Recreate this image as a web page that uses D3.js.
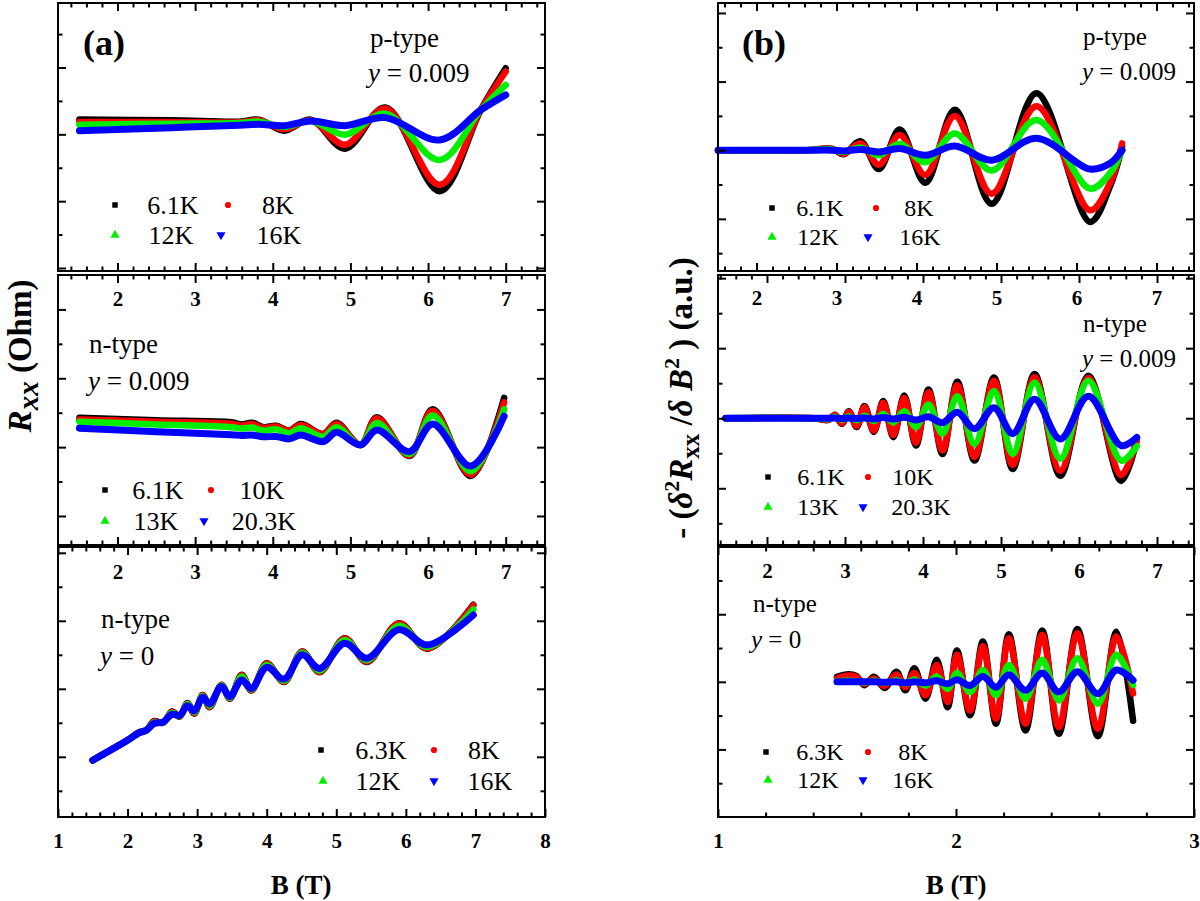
<!DOCTYPE html>
<html>
<head>
<meta charset="utf-8">
<script src="https://cdn.jsdelivr.net/npm/d3@7/dist/d3.min.js"></script>
<style>
html,body{margin:0;padding:0;background:#fff;}
svg{display:block;}
svg text{font-family:'Liberation Serif','Times New Roman','DejaVu Serif',serif;}
</style>
</head>
<body>
<svg id="chart" width="1200" height="901"></svg>
<script>
// ================= DATA =================
// Panel (a) top : R_xx, p-type, y = 0.009   (x = B in T, y = arbitrary units)
const aTopTemps = ['6.1K', '8K', '12K', '16K'];
const aTopB   = [1.51, 2.70, 3.57, 3.82, 4.15, 4.49, 4.93, 5.45, 6.15, 6.68, 7.00];
const aTopK61 = [4.44, 4.42, 4.38, 4.44, 4.11, 4.44, 3.57, 4.80, 2.30, 4.74, 5.98];
const aTopK8  = [4.37, 4.37, 4.36, 4.42, 4.15, 4.42, 3.69, 4.77, 2.49, 4.73, 5.88];
const aTopK12 = [4.29, 4.32, 4.34, 4.38, 4.22, 4.40, 3.99, 4.62, 3.23, 4.73, 5.48];
const aTopK16 = [4.11, 4.20, 4.27, 4.30, 4.26, 4.40, 4.26, 4.50, 3.83, 4.73, 5.18];

// Panel (a) middle : R_xx, n-type, y = 0.009
const aMidTemps = ['6.1K', '10K', '13K', '20.3K'];
const aMidB    = [1.51, 2.50, 3.47, 3.60, 3.73, 3.88, 4.04, 4.21, 4.36, 4.65, 4.82, 5.13, 5.34, 5.76, 6.06, 6.55, 6.98];
const aMidK61  = [3.85, 3.78, 3.72, 3.66, 3.71, 3.58, 3.62, 3.48, 3.67, 3.38, 3.71, 3.06, 3.87, 2.74, 4.10, 2.16, 4.43];
const aMidK10  = [3.80, 3.74, 3.68, 3.62, 3.67, 3.56, 3.60, 3.47, 3.64, 3.38, 3.68, 3.08, 3.84, 2.76, 4.06, 2.20, 4.30];
const aMidK13  = [3.74, 3.66, 3.58, 3.54, 3.57, 3.48, 3.52, 3.40, 3.55, 3.30, 3.58, 3.07, 3.70, 2.80, 3.92, 2.30, 4.10];
const aMidK203 = [3.55, 3.45, 3.36, 3.34, 3.35, 3.30, 3.31, 3.24, 3.35, 3.16, 3.43, 3.06, 3.50, 2.87, 3.67, 2.45, 3.90];

// Panel (a) bottom : R_xx, n-type, y = 0
const aBotTemps = ['6.3K', '8K', '12K', '16K'];
const aBotB   = [1.50, 2.01, 2.16, 2.27, 2.38, 2.51, 2.64, 2.75, 2.86, 2.96, 3.08, 3.18, 3.35, 3.47, 3.64, 3.78, 4.00, 4.25, 4.51, 4.76, 5.12, 5.44, 5.90, 6.31, 6.97];
const aBotK63 = [0.90, 1.50, 1.72, 1.78, 2.05, 2.00, 2.33, 2.18, 2.58, 2.27, 2.82, 2.46, 3.12, 2.71, 3.41, 2.95, 3.75, 3.20, 4.10, 3.49, 4.49, 3.79, 4.93, 4.18, 5.47];
const aBotK8  = [0.90, 1.50, 1.72, 1.78, 2.04, 2.00, 2.32, 2.19, 2.57, 2.28, 2.81, 2.47, 3.11, 2.72, 3.40, 2.96, 3.74, 3.21, 4.09, 3.50, 4.48, 3.80, 4.92, 4.19, 5.45];
const aBotK12 = [0.90, 1.50, 1.71, 1.78, 2.01, 2.01, 2.29, 2.20, 2.55, 2.31, 2.79, 2.50, 3.10, 2.74, 3.36, 2.98, 3.70, 3.24, 4.06, 3.54, 4.43, 3.84, 4.85, 4.23, 5.33];
const aBotK16 = [0.90, 1.50, 1.70, 1.78, 1.98, 2.02, 2.25, 2.22, 2.50, 2.35, 2.75, 2.55, 3.07, 2.77, 3.26, 3.01, 3.63, 3.29, 4.00, 3.60, 4.34, 3.90, 4.74, 4.29, 5.17];

// Panel (b) top : -d2R/dB2, p-type, y = 0.009
const bTopTemps = ['6.1K', '8K', '12K', '16K'];
const bTopB   = [1.52, 2.60, 2.95, 3.09, 3.30, 3.53, 3.79, 4.11, 4.48, 4.94, 5.50, 6.17, 6.42, 6.57];
const bTopK61 = [0, 0, 0.04, -0.12, 0.26, -0.55, 0.60, -0.95, 1.18, -1.56, 1.66, -2.09, -1.05, 0.10];
const bTopK8  = [0, 0, 0.04, -0.10, 0.20, -0.42, 0.44, -0.72, 1.00, -1.27, 1.28, -1.75, -0.95, 0.20];
const bTopK12 = [0, 0, 0.02, -0.05, 0.08, -0.15, 0.19, -0.35, 0.49, -0.59, 0.88, -1.12, -0.67, 0.00];
const bTopK16 = [0, 0, 0.00, -0.02, 0.02, -0.05, 0.05, -0.15, 0.12, -0.29, 0.35, -0.55, -0.38, 0.00];

// Panel (b) middle : n-type, y = 0.009
const bMidTemps = ['6.1K', '10K', '13K', '20.3K'];
const bMidB    = [1.47, 2.60, 2.79, 2.87, 2.96, 3.05, 3.15, 3.25, 3.37, 3.49, 3.62, 3.76, 3.91, 4.07, 4.25, 4.44, 4.66, 4.91, 5.15, 5.43, 5.76, 6.12, 6.54, 6.74];
const bMidK61  = [0, 0, -0.05, 0.10, -0.16, 0.20, -0.25, 0.35, -0.39, 0.49, -0.54, 0.65, -0.78, 0.82, -1.02, 1.04, -1.21, 1.16, -1.45, 1.26, -1.64, 1.21, -1.79, -0.63];
const bMidK10  = [0, 0, -0.04, 0.09, -0.14, 0.18, -0.22, 0.31, -0.35, 0.44, -0.48, 0.58, -0.70, 0.74, -0.92, 0.94, -1.10, 1.07, -1.33, 1.17, -1.50, 1.15, -1.62, -0.62];
const bMidK13  = [0, 0, -0.02, 0.04, -0.05, 0.06, -0.06, 0.07, -0.08, 0.12, -0.12, 0.20, -0.25, 0.39, -0.44, 0.63, -0.73, 0.78, -1.02, 1.02, -1.16, 1.07, -1.21, -0.80];
const bMidK203 = [0, 0, 0, 0.01, -0.01, 0.01, -0.01, 0.01, -0.02, 0.02, -0.02, 0.03, -0.05, 0.04, -0.13, 0.17, -0.30, 0.30, -0.44, 0.54, -0.59, 0.63, -0.78, -0.55];

// Panel (b) bottom : n-type, y = 0 (plotted on the 1..3 bottom axis)
const bBotTemps = ['6.3K', '8K', '12K', '16K'];
const bBotX   = [1.50, 1.54, 1.58, 1.615, 1.655, 1.70, 1.75, 1.787, 1.825, 1.872, 1.919, 1.965, 2.004, 2.059, 2.113, 2.168, 2.222, 2.292, 2.362, 2.432, 2.510, 2.596, 2.674, 2.744];
const bBotK63 = [0.15, 0.22, 0.18, -0.10, 0.15, -0.18, 0.30, -0.25, 0.40, -0.50, 0.65, -0.75, 0.93, -0.99, 1.19, -1.24, 1.41, -1.44, 1.52, -1.54, 1.56, -1.61, 1.48, -1.15];
const bBotK8  = [0.10, 0.18, 0.15, -0.06, 0.10, -0.12, 0.22, -0.16, 0.26, -0.40, 0.50, -0.60, 0.80, -0.85, 1.05, -1.09, 1.29, -1.24, 1.39, -1.34, 1.44, -1.39, 1.34, -0.35];
const bBotK12 = [0.02, 0.03, 0.02, -0.02, 0.03, -0.03, 0.05, -0.05, 0.07, -0.11, 0.16, -0.21, 0.26, -0.30, 0.35, -0.40, 0.50, -0.50, 0.65, -0.55, 0.70, -0.65, 0.80, -0.10];
const bBotK16 = [0, 0, 0, 0, 0, -0.01, 0, -0.03, 0, -0.03, 0.03, -0.06, 0.06, -0.11, 0.16, -0.16, 0.21, -0.25, 0.26, -0.30, 0.30, -0.35, 0.35, 0.05];

// Tick labels
const xLabelsInner = [2, 3, 4, 5, 6, 7];
const xLabelsBotA  = [1, 2, 3, 4, 5, 6, 7, 8];
const xLabelsBotB  = [1, 2, 3];

// ================= DRAW =================
const FONT = "'Liberation Serif','Times New Roman','DejaVu Serif',serif";
const COLORS = ['#000000', '#ff0000', '#00ee00', '#0000ff'];
const SYMS = [
  {type: d3.symbolSquare, size: 30, rot: 0},
  {type: d3.symbolCircle, size: 30, rot: 0},
  {type: d3.symbolTriangle, size: 36, rot: 0},
  {type: d3.symbolTriangle, size: 36, rot: 180}
];

const svg = d3.select('#chart');
svg.append('rect').attr('width', 1200).attr('height', 901).attr('fill', '#fff');

const panels = [
  {xr:[58,545], yr:[3,271], xd:[1.234,7.506], yd:[-0.09,7.93], xMaj:xLabelsInner, yMaj:[0,2,4,6], yMin:[1,3,5,7], lab:35,
   X:aTopB, S:[aTopK61,aTopK8,aTopK12,aTopK16], temps:aTopTemps,
   leg:{mx:[115,228,115,221], tx:[173,278,171,279], ry:[205,205,235,235], fs:26},
   ann:{t1:'p-type', t2:'0.009', x1:370, y1:47, x2:368, y2:82, fs:27}},
  {xr:[58,545], yr:[275,545], xd:[1.234,7.506], yd:[0.157,8.0], xMaj:xLabelsInner, yMaj:[1,3,5,7], yMin:[2,4,6], lab:34,
   X:aMidB, S:[aMidK61,aMidK10,aMidK13,aMidK203], temps:aMidTemps,
   leg:{mx:[105,211,105,204], tx:[158,262,156,264], ry:[490,490,521,521], fs:26},
   ann:{t1:'n-type', t2:'0.009', x1:89, y1:353, x2:88, y2:390, fs:27}},
  {xr:[58,545], yr:[547,817], xd:[1,8], yd:[-0.77,7.17], xMaj:xLabelsBotA, yMaj:[1,3,5,7], yMin:[0,2,4,6], lab:31,
   X:aBotB, S:[aBotK63,aBotK8,aBotK12,aBotK16], temps:aBotTemps,
   leg:{mx:[321,434,323,434], tx:[381,484,378,490], ry:[750,750,781,781], fs:26},
   ann:{t1:'n-type', t2:'0', x1:101, y1:628, x2:100, y2:665, fs:27}},
  {xr:[718,1194], yr:[3,271], xd:[1.519,7.469], yd:[-3.52,4.29], xMaj:xLabelsInner, yMaj:[-2,0,2,4], yMin:[-3,-1,1,3], lab:34,
   X:bTopB, S:[bTopK61,bTopK8,bTopK12,bTopK16], temps:bTopTemps,
   leg:{mx:[772,876,772,868], tx:[820,919,818,920], ry:[208,208,237,237], fs:24},
   ann:{t1:'p-type', t2:'0.009', x1:1083, y1:45, x2:1082, y2:80, fs:25}},
  {xr:[718,1194], yr:[275,545], xd:[1.372,7.474], yd:[-3.62,4.09], xMaj:xLabelsInner, yMaj:[-2,0,2,4], yMin:[-3,-1,1,3], lab:33,
   X:bMidB, S:[bMidK61,bMidK10,bMidK13,bMidK203], temps:bMidTemps,
   leg:{mx:[768,868,768,863], tx:[821,913,818,921], ry:[477,477,507,507], fs:24},
   ann:{t1:'n-type', t2:'0.009', x1:1083, y1:332, x2:1082, y2:367, fs:25}},
  {xr:[718,1194], yr:[547,817], xd:[1,3], yd:[-4.0,3.99], xMaj:xLabelsBotB, yMaj:[-2,0,2], yMin:[-3,-1,1,3], lab:31,
   X:bBotX, S:[bBotK63,bBotK8,bBotK12,bBotK16], temps:bBotTemps,
   leg:{mx:[766,868,768,863], tx:[820,913,818,913], ry:[752,752,780,780], fs:24},
   ann:{t1:'n-type', t2:'0', x1:753, y1:612, x2:751, y2:648, fs:25}}
];

function styleAxis(g) {
  g.select('.domain').remove();
  g.selectAll('.tick line').attr('stroke', '#000').attr('stroke-width', 2);
}

panels.forEach(p => {
  const x = d3.scaleLinear().domain(p.xd).range(p.xr);
  const y = d3.scaleLinear().domain(p.yd).range([p.yr[1], p.yr[0]]);
  const g = svg.append('g');

  // curves (dense symbol bands rendered as thick lines through read points)
  const line = d3.line()
    .x(d => x(d[0])).y(d => y(d[1]))
    .curve(d3.curveCatmullRom.alpha(0.5));
  p.S.forEach((vals, i) => {
    g.append('path')
      .datum(p.X.map((b, k) => [b, vals[k]]))
      .attr('d', line)
      .attr('fill', 'none')
      .attr('stroke', COLORS[i])
      .attr('stroke-width', i === 3 ? 7 : 6.5)
      .attr('stroke-linejoin', 'round')
      .attr('stroke-linecap', 'round');
  });

  // frame
  g.append('rect')
    .attr('x', p.xr[0]).attr('y', p.yr[0])
    .attr('width', p.xr[1] - p.xr[0]).attr('height', p.yr[1] - p.yr[0])
    .attr('fill', 'none').attr('stroke', '#000').attr('stroke-width', 2);

  // x ticks (minor every 0.2)
  const kLo = Math.ceil(p.xd[0] * 5 - 1e-6), kHi = Math.floor(p.xd[1] * 5 + 1e-6);
  const xMinor = d3.range(kLo, kHi + 1).filter(k => k % 5 !== 0).map(k => k / 5);
  const xMajor = d3.range(kLo, kHi + 1).filter(k => k % 5 === 0).map(k => k / 5);

  const bMaj = g.append('g').attr('transform', `translate(0,${p.yr[1]})`)
    .call(d3.axisBottom(x).tickValues(xMajor).tickSize(-8)
      .tickFormat(v => p.xMaj.includes(v) ? String(v) : ''));
  styleAxis(bMaj);
  bMaj.selectAll('.tick text')
    .attr('dy', null).attr('y', p.lab)
    .attr('fill', '#000')
    .style('font-family', FONT).style('font-size', '21px').style('font-weight', 'bold');
  const bMin = g.append('g').attr('transform', `translate(0,${p.yr[1]})`)
    .call(d3.axisBottom(x).tickValues(xMinor).tickSize(-4.5).tickFormat(''));
  styleAxis(bMin);
  const tMaj = g.append('g').attr('transform', `translate(0,${p.yr[0]})`)
    .call(d3.axisTop(x).tickValues(xMajor).tickSize(-8).tickFormat(''));
  styleAxis(tMaj);
  const tMin = g.append('g').attr('transform', `translate(0,${p.yr[0]})`)
    .call(d3.axisTop(x).tickValues(xMinor).tickSize(-4.5).tickFormat(''));
  styleAxis(tMin);

  // y ticks (both sides, inward, no labels)
  [[d3.axisLeft, p.xr[0]], [d3.axisRight, p.xr[1]]].forEach(([ax, pos]) => {
    const a1 = g.append('g').attr('transform', `translate(${pos},0)`)
      .call(ax(y).tickValues(p.yMaj).tickSize(-8).tickFormat(''));
    styleAxis(a1);
    const a2 = g.append('g').attr('transform', `translate(${pos},0)`)
      .call(ax(y).tickValues(p.yMin).tickSize(-4.5).tickFormat(''));
    styleAxis(a2);
  });

  // legend
  p.temps.forEach((t, i) => {
    const s = SYMS[i];
    g.append('path')
      .attr('d', d3.symbol().type(s.type).size(s.size)())
      .attr('transform', `translate(${p.leg.mx[i]},${p.leg.ry[i]}) rotate(${s.rot})`)
      .attr('fill', COLORS[i]);
    g.append('text')
      .attr('x', p.leg.tx[i]).attr('y', p.leg.ry[i] + p.leg.fs * 0.34)
      .attr('text-anchor', 'middle')
      .style('font-family', FONT).style('font-size', p.leg.fs + 'px')
      .text(t);
  });

  // annotation
  g.append('text').attr('x', p.ann.x1).attr('y', p.ann.y1)
    .style('font-family', FONT).style('font-size', p.ann.fs + 'px').text(p.ann.t1);
  const t2 = g.append('text').attr('x', p.ann.x2).attr('y', p.ann.y2)
    .style('font-family', FONT).style('font-size', p.ann.fs + 'px');
  t2.append('tspan').style('font-style', 'italic').text('y');
  t2.append('tspan').text(' = ' + p.ann.t2);
});

// panel letters
svg.append('text').attr('x', 83).attr('y', 55)
  .style('font-family', FONT).style('font-size', '36px').style('font-weight', 'bold').text('(a)');
svg.append('text').attr('x', 742).attr('y', 55)
  .style('font-family', FONT).style('font-size', '36px').style('font-weight', 'bold').text('(b)');

// x-axis titles
[301, 956].forEach(cx => {
  svg.append('text').attr('x', cx).attr('y', 894).attr('text-anchor', 'middle')
    .style('font-family', FONT).style('font-size', '27px').style('font-weight', 'bold')
    .text('B (T)');
});

// y-axis title (a)
const ya = svg.append('text')
  .attr('transform', 'translate(31,356) rotate(-90)')
  .attr('text-anchor', 'middle')
  .style('font-family', FONT).style('font-size', '33px').style('font-weight', 'bold');
ya.append('tspan').style('font-style', 'italic').text('R');
ya.append('tspan').style('font-style', 'italic').style('font-size', '29px').attr('dy', 7).text('xx');
ya.append('tspan').attr('dy', -7).text(' (Ohm)');

// y-axis title (b)
const yb = svg.append('text')
  .attr('transform', 'translate(692,398) rotate(-90)')
  .attr('text-anchor', 'middle')
  .style('font-family', FONT).style('font-size', '33px').style('font-weight', 'bold');
yb.append('tspan').text('- (');
yb.append('tspan').style('font-style', 'italic').text('δ');
yb.append('tspan').style('font-size', '22px').attr('dy', -13).text('2');
yb.append('tspan').style('font-style', 'italic').attr('dy', 13).text('R');
yb.append('tspan').style('font-size', '25px').attr('dy', 7).text('xx');
yb.append('tspan').attr('dy', -7).text(' /');
yb.append('tspan').style('font-style', 'italic').text('δ B');
yb.append('tspan').style('font-size', '22px').attr('dy', -13).text('2');
yb.append('tspan').attr('dy', 13).text(' ) (a.u.)');
</script>
</body>
</html>
